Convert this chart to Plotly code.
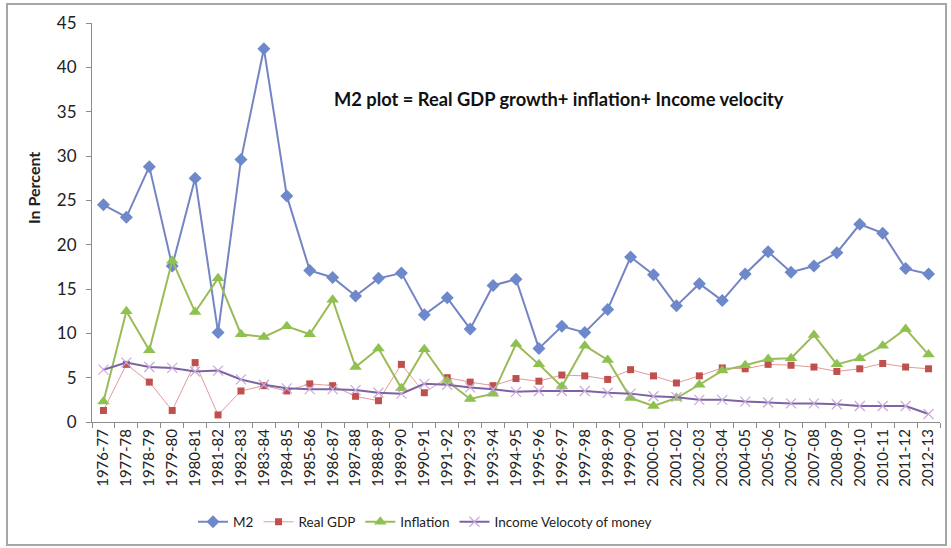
import plotly.graph_objects as go

years = ["1976-77", "1977-78", "1978-79", "1979-80", "1980-81", "1981-82", "1982-83",
         "1983-84", "1984-85", "1985-86", "1986-87", "1987-88", "1988-89", "1989-90",
         "1990-91", "1991-92", "1992-93", "1993-94", "1994-95", "1995-96", "1996-97",
         "1997-98", "1998-99", "1999-00", "2000-01", "2001-02", "2002-03", "2003-04",
         "2004-05", "2005-06", "2006-07", "2007-08", "2008-09", "2009-10", "2010-11",
         "2011-12", "2012-13"]

m2 = [24.5, 23.1, 28.8, 17.6, 27.5, 10.1, 29.6, 42.1, 25.5, 17.1, 16.3, 14.2, 16.2,
      16.8, 12.1, 14.0, 10.5, 15.4, 16.1, 8.3, 10.8, 10.1, 12.7, 18.6, 16.6, 13.1,
      15.6, 13.7, 16.7, 19.2, 16.9, 17.6, 19.1, 22.3, 21.3, 17.3, 16.7]

real_gdp = [1.3, 6.5, 4.5, 1.3, 6.7, 0.8, 3.5, 4.1, 3.5, 4.3, 4.1, 2.9, 2.4, 6.5,
            3.3, 5.0, 4.5, 4.1, 4.9, 4.6, 5.3, 5.2, 4.8, 5.9, 5.2, 4.4, 5.2, 6.1,
            6.0, 6.5, 6.4, 6.2, 5.7, 6.0, 6.6, 6.2, 6.0]

inflation = [2.3, 12.5, 8.1, 18.2, 12.4, 16.2, 9.9, 9.6, 10.8, 9.9, 13.8, 6.2, 8.3,
             3.8, 8.2, 4.6, 2.6, 3.2, 8.8, 6.5, 4.0, 8.6, 7.0, 2.7, 1.8, 2.7, 4.2,
             5.8, 6.4, 7.1, 7.2, 9.8, 6.5, 7.2, 8.6, 10.5, 7.6]

velocity = [5.9, 6.7, 6.2, 6.1, 5.7, 5.8, 4.8, 4.2, 3.8, 3.7, 3.7, 3.6, 3.3, 3.2,
            4.3, 4.2, 3.9, 3.7, 3.4, 3.5, 3.5, 3.5, 3.3, 3.2, 2.9, 2.8, 2.5, 2.5,
            2.3, 2.2, 2.1, 2.1, 2.0, 1.8, 1.8, 1.8, 0.9]

title_text = "M2 plot = Real GDP growth+ inflation+ Income velocity"
y_title = "In Percent"

W, H = 951, 548
L, R, T, B = 92, 11, 23, 126
pw, ph = W - L - R, H - T - B

def px_x(p):
    return (p - L) / pw

def px_y(p):
    return (H - B - p) / ph

font = "Lato, 'Open Sans', sans-serif"

fig = go.Figure()
fig.add_trace(go.Scatter(
    x=years, y=m2, name="M2", mode="lines+markers",
    line=dict(color="#7585C4", width=2),
    marker=dict(symbol="diamond", size=10, color="#6E88CC"),
))
fig.add_trace(go.Scatter(
    x=years, y=real_gdp, name="Real GDP", mode="lines+markers",
    line=dict(color="#E39A98", width=1),
    marker=dict(symbol="square", size=7, color="#C0504D"),
))
fig.add_trace(go.Scatter(
    x=years, y=inflation, name="Inflation", mode="lines+markers",
    line=dict(color="#9BBB59", width=2),
    marker=dict(symbol="triangle-up", size=11, color="#8DC24E"),
))
fig.add_trace(go.Scatter(
    x=years, y=velocity, name="Income Velocoty of money", mode="lines+markers",
    line=dict(color="#7D63A3", width=2),
    marker=dict(symbol="x-thin", size=10, color="#C9A9DA",
                line=dict(color="#C9A9DA", width=1.2)),
))

fig.update_layout(
    width=W, height=H,
    margin=dict(l=L, r=R, t=T, b=B),
    paper_bgcolor="white", plot_bgcolor="white",
    font=dict(family=font, size=13, color="#222"),
    showlegend=True,
    legend=dict(orientation="h", x=px_x(425), xanchor="center",
                y=px_y(522), yanchor="middle",
                font=dict(size=13.5, color="#222"),
                itemwidth=30, tracegroupgap=0),
    xaxis=dict(
        type="category", range=[-0.5, len(years) - 0.5],
        showline=True, linecolor="#8C8C8C", linewidth=1,
        ticks="outside", tickson="boundaries", ticklen=5, tickcolor="#8C8C8C",
        tickangle=-90, showgrid=False, zeroline=False,
        tickfont=dict(size=15, color="#222"),
    ),
    yaxis=dict(
        range=[0, 45], dtick=5, tick0=0,
        showline=True, linecolor="#8C8C8C", linewidth=1,
        ticks="outside", ticklen=5, tickcolor="#8C8C8C",
        ticklabelstandoff=6,
        showgrid=False, zeroline=False,
        tickfont=dict(size=17, color="#222"),
    ),
    annotations=[
        dict(text="<b>" + title_text + "</b>", xref="paper", yref="paper",
             x=px_x(332), y=px_y(99), xanchor="left", yanchor="middle",
             showarrow=False, font=dict(size=18.3, color="#111")),
        dict(text="<b>" + y_title + "</b>", xref="paper", yref="paper",
             x=px_x(33), y=px_y(188), xanchor="center", yanchor="middle",
             textangle=-90, showarrow=False, font=dict(size=16, color="#222")),
    ],
    shapes=[
        dict(type="rect", xref="paper", yref="paper",
             x0=px_x(7), x1=px_x(946), y0=px_y(545), y1=px_y(4),
             line=dict(color="#A6A6A6", width=2), fillcolor="rgba(0,0,0,0)",
             layer="below"),
    ],
)

fig.write_html("out.html")
